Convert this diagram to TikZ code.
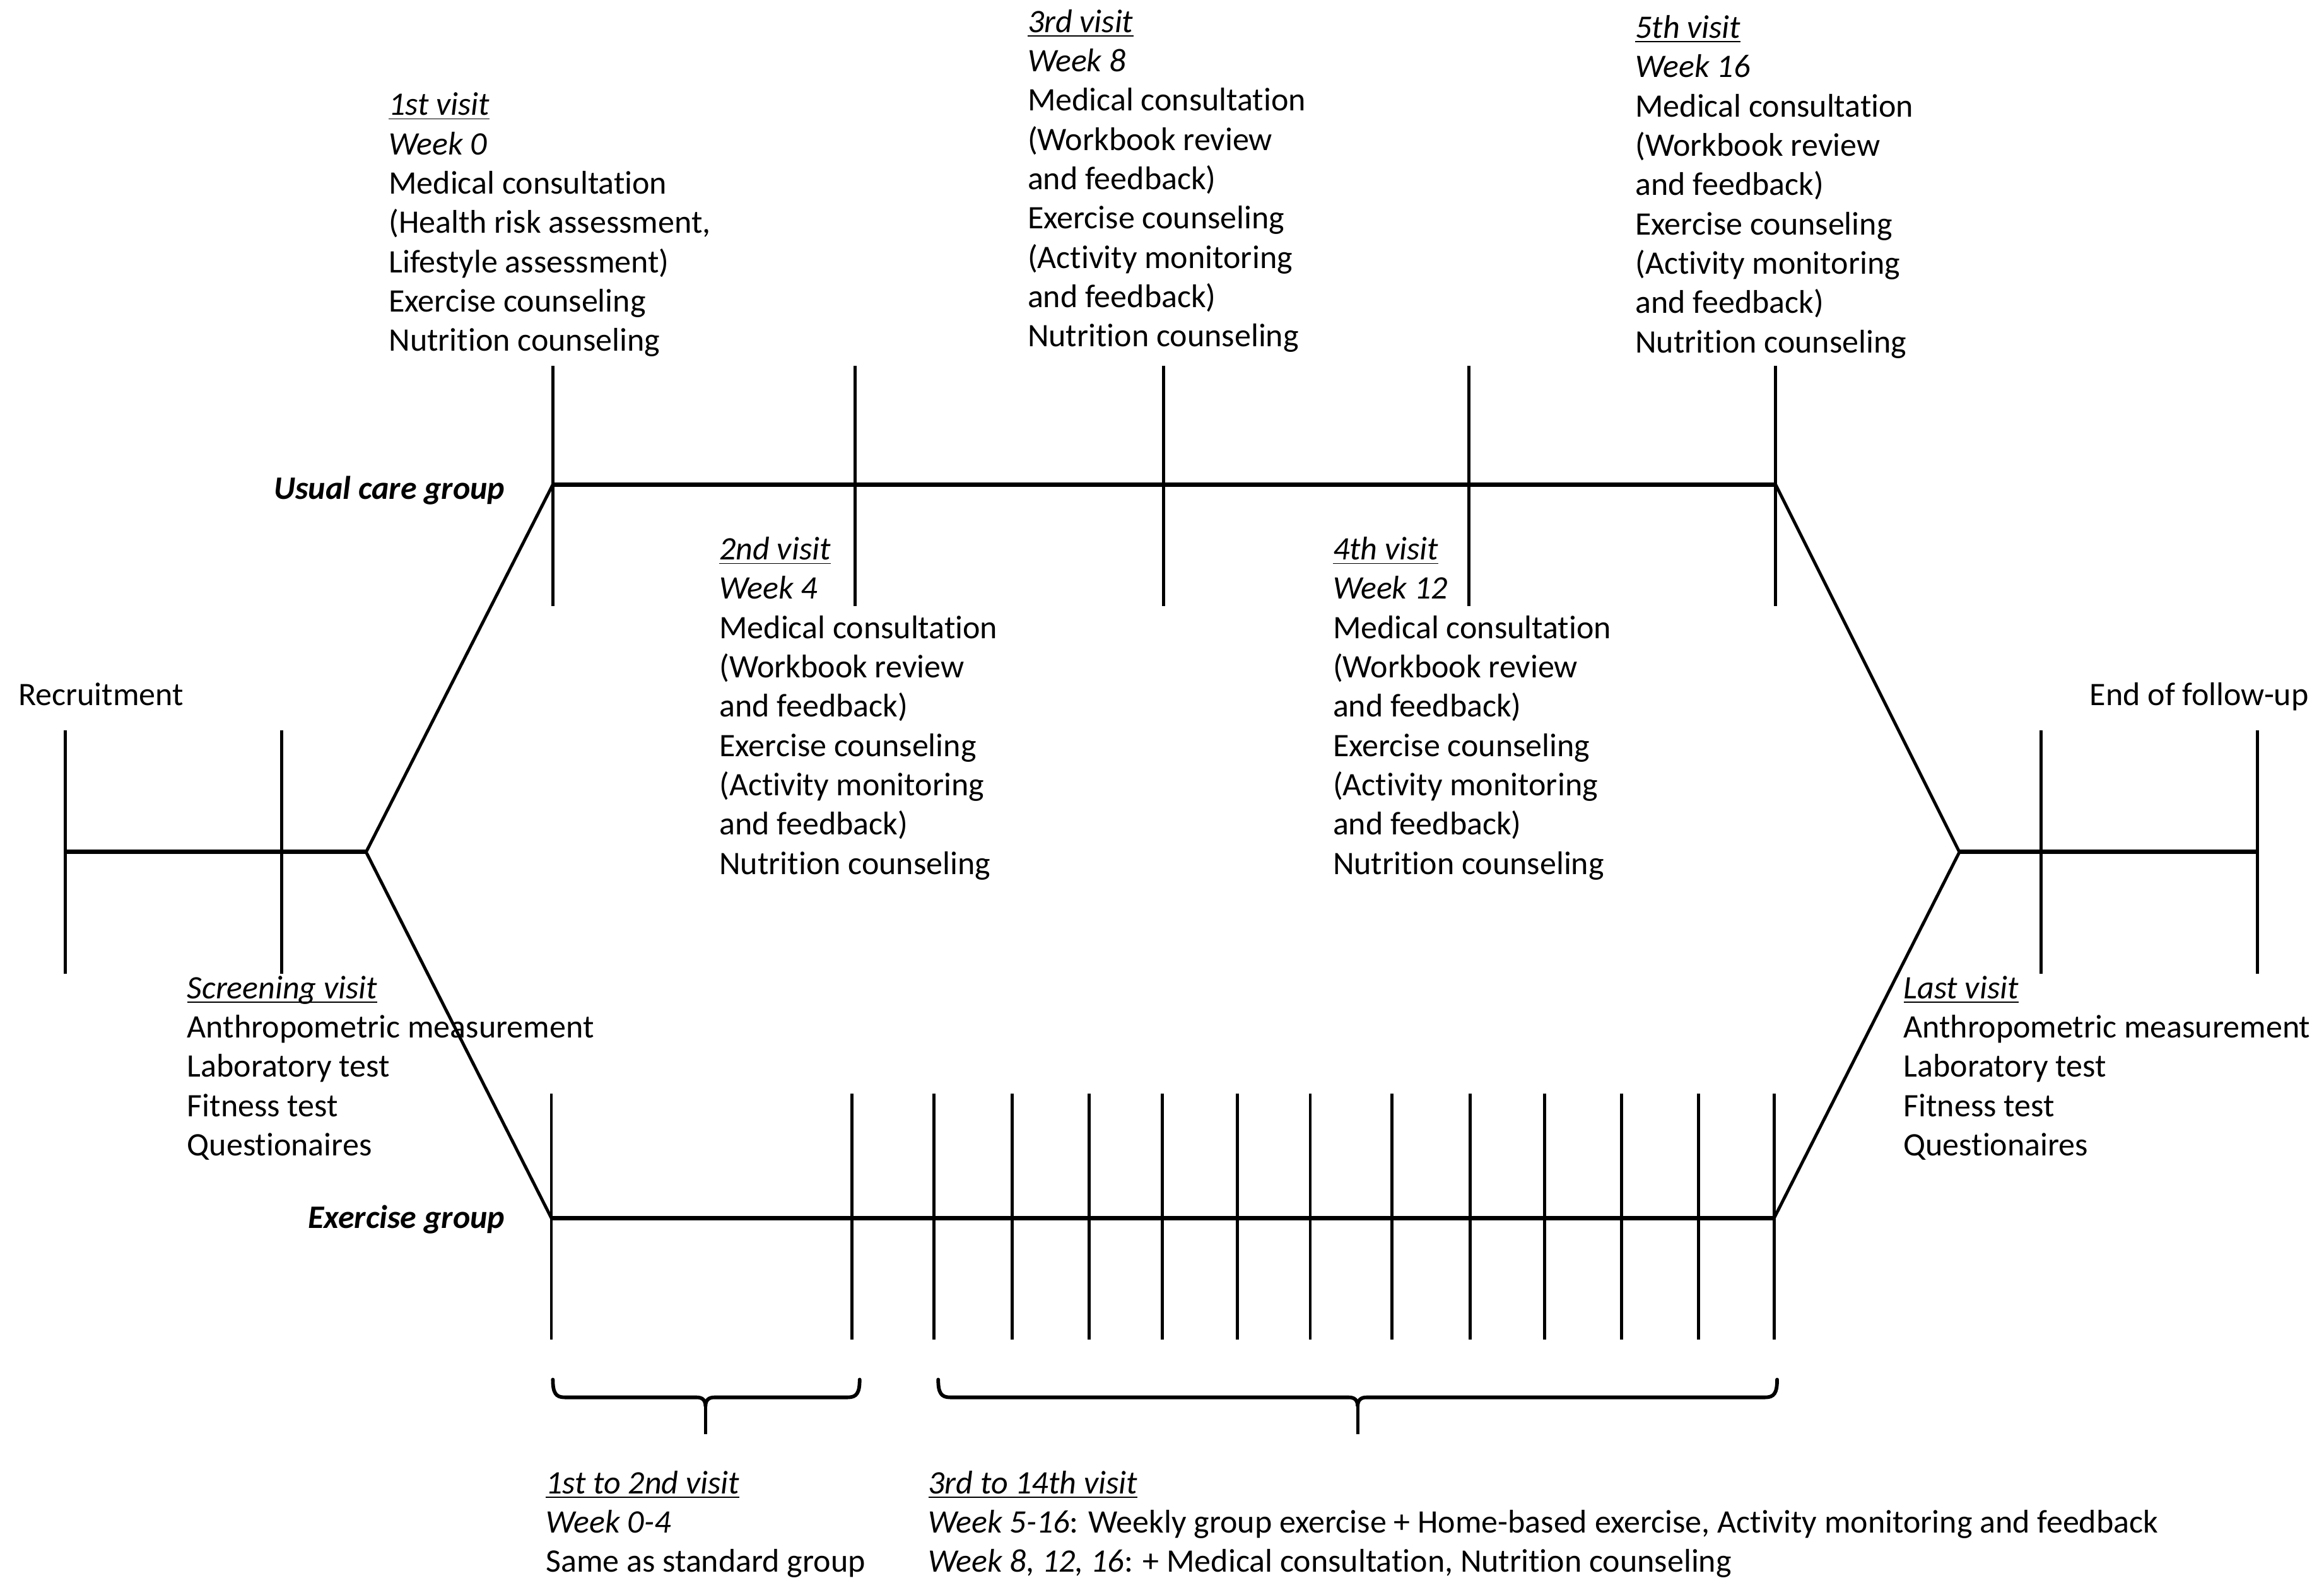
\documentclass[tikz,border=0pt]{standalone}
\usepackage{fontspec}
\setmainfont{Carlito}[Ligatures=NoCommon]
\usetikzlibrary{positioning}
\newcommand{\diagfont}{\fontsize{12.6}{15.1}\selectfont}
\newcommand{\ulit}[1]{\underline{\smash{\textit{#1}}}}
\tikzset{
  tick/.style={line width=1.2pt},
  axis/.style={line width=1.7pt},
  brace/.style={line width=1.4pt, line cap=round},
  visit/.style={anchor=base west, align=left, inner sep=0pt},
  group/.style={anchor=base east, inner sep=0pt, font=\diagfont\bfseries\itshape}
}

\begin{document}
\begin{tikzpicture}[x=0.02cm, y=-0.02cm, font=\diagfont]
\useasboundingbox (0,0) rectangle (1568,1076);

% Junction points
\coordinate (rec) at (44,575);
\coordinate (scr) at (190,575);
\coordinate (forkL) at (247,575);
\coordinate (forkR) at (1322,575);
\coordinate (last) at (1377,575);
\coordinate (end) at (1523,575);
\coordinate (uc0) at (373,327);
\coordinate (uc4) at (1198,327);
\coordinate (ex0) at (372,822);
\coordinate (ex13) at (1197,822);

% Recruitment and follow-up lines
\draw[axis] (rec) -- (forkL);
\draw[axis] (forkR) -- (end);
\foreach \p in {rec, scr, last, end}
  \draw[tick] (\p) ++(0,-82) -- ++(0,164);

% Branches to the two groups
\draw[tick] (forkL) -- (uc0);
\draw[tick] (forkL) -- (ex0);
\draw[tick] (uc4) -- (forkR);
\draw[tick] (ex13) -- (forkR);

% Usual care group
\draw[axis] (uc0) -- (uc4);
\foreach \x in {373, 577, 785, 991, 1198}
  \draw[tick] (\x,247) -- (\x,409);

% Exercise group (14 visits)
\draw[axis] (ex0) -- (ex13);
\foreach \x in {372, 575, 630, 683, 735, 784, 835, 884, 939, 992, 1042, 1094, 1146, 1197}
  \draw[tick] (\x,738) -- (\x,904);

% Braces
\foreach \a/\m/\b in {373/476/580, 633/916/1199} {
  \draw[brace] (\a,931) .. controls (\a,940) and (\a+2,943) .. (\a+8,943) -- (\m-6,943)
    .. controls (\m-2,943) and (\m,945) .. (\m,949)
    .. controls (\m,945) and (\m+2,943) .. (\m+6,943) -- (\b-8,943)
    .. controls (\b-2,943) and (\b,940) .. (\b,931);
  \draw[tick] (\m,949) -- (\m,968);
}

% Group labels
\node[group] (usual) at (341,337) {Usual care group};
\node[group] (exgroup) at (341,829) {Exercise group};

% End labels
\node[visit] (recruit) at (12,476) {Recruitment};
\node[anchor=base east, inner sep=0pt] (followup) at (1558,476) {End of follow-up};

% Visit descriptions (placed at the baseline of their last line)
\node[visit] (v1) at (262,237) {\ulit{1st visit}\\ \textit{Week 0}\\ Medical consultation\\ (Health risk assessment,\\ Lifestyle assessment)\\ Exercise counseling\\ Nutrition counseling};
\node[visit] (v3) at (693,234) {\ulit{3rd visit}\\ \textit{Week 8}\\ Medical consultation\\ (Workbook review\\ and feedback)\\ Exercise counseling\\ (Activity monitoring\\ and feedback)\\ Nutrition counseling};
\node[visit] (v5) at (1103,238) {\ulit{5th visit}\\ \textit{Week 16}\\ Medical consultation\\ (Workbook review\\ and feedback)\\ Exercise counseling\\ (Activity monitoring\\ and feedback)\\ Nutrition counseling};
\node[visit] (v2) at (485,590) {\ulit{2nd visit}\\ \textit{Week 4}\\ Medical consultation\\ (Workbook review\\ and feedback)\\ Exercise counseling\\ (Activity monitoring\\ and feedback)\\ Nutrition counseling};
\node[visit] (v4) at (899,590) {\ulit{4th visit}\\ \textit{Week 12}\\ Medical consultation\\ (Workbook review\\ and feedback)\\ Exercise counseling\\ (Activity monitoring\\ and feedback)\\ Nutrition counseling};

% Screening and last visit
\node[visit] (screen) at (126,780) {\ulit{Screening visit}\\ Anthropometric measurement\\ Laboratory test\\ Fitness test\\ Questionaires};
\node[visit] (lastv) at (1284,780) {\ulit{Last visit}\\ Anthropometric measurement\\ Laboratory test\\ Fitness test\\ Questionaires};

% Exercise group periods
\node[visit] (p1) at (368,1061) {\ulit{1st to 2nd visit}\\ \textit{Week 0-4}\\ Same as standard group};
\node[visit] (p2) at (626,1061) {\ulit{3rd to 14th visit}\\ \textit{Week 5-16}: Weekly group exercise + Home-based exercise, Activity monitoring and feedback\\ \textit{Week 8, 12, 16}: + Medical consultation, Nutrition counseling};

\end{tikzpicture}
\end{document}
